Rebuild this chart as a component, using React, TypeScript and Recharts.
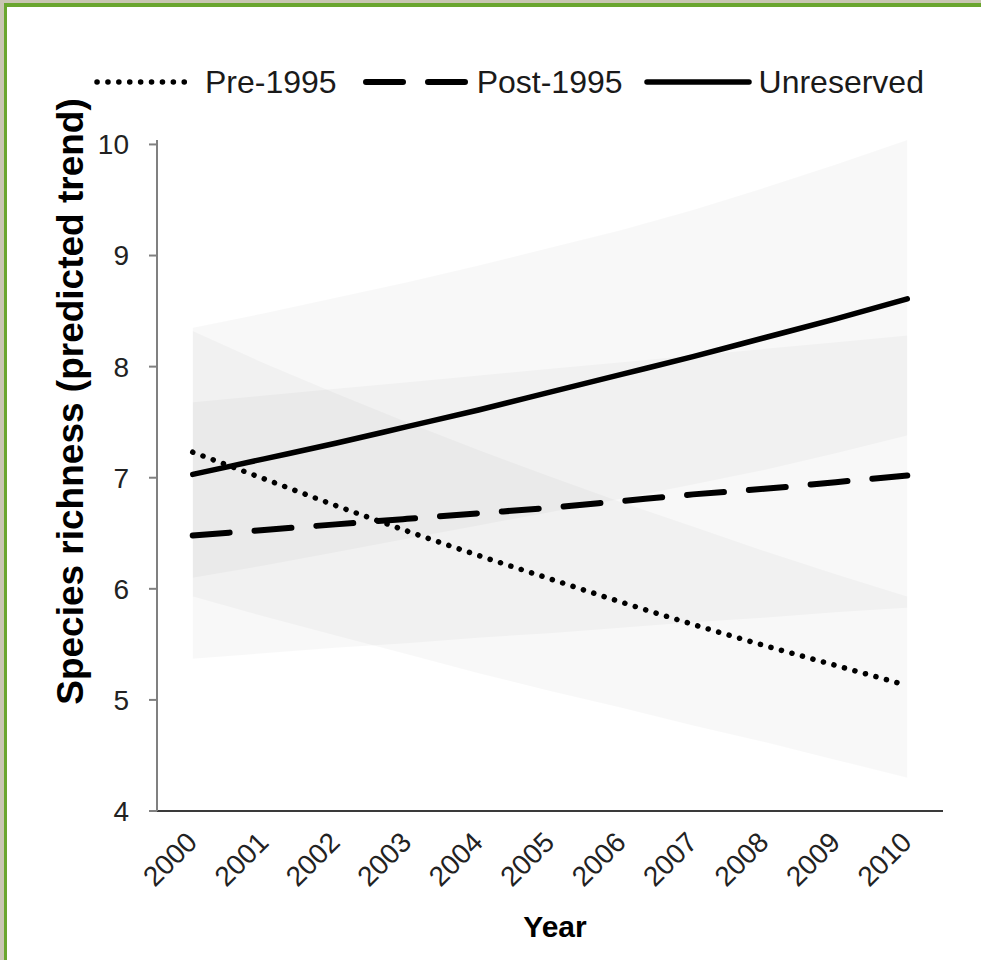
import React from "react";
import { ComposedChart, Line, Area, XAxis, YAxis, Legend, Label } from "recharts";

// ---- data ----
const years = [2000, 2001, 2002, 2003, 2004, 2005, 2006, 2007, 2008, 2009, 2010];
const yTicks = [4, 5, 6, 7, 8, 9, 10];
const seriesNames = ["Pre-1995", "Post-1995", "Unreserved"];

const preTrend = [7.23, 6.99, 6.75, 6.52, 6.3, 6.09, 5.88, 5.68, 5.49, 5.31, 5.13];
const postTrend = [6.48, 6.53, 6.58, 6.63, 6.68, 6.73, 6.79, 6.85, 6.9, 6.96, 7.02];
const unresTrend = [7.03, 7.17, 7.31, 7.46, 7.61, 7.77, 7.93, 8.09, 8.26, 8.43, 8.61];

const preUpper = [8.32, 8.03, 7.76, 7.5, 7.25, 7.01, 6.78, 6.56, 6.34, 6.13, 5.93];
const preLower = [5.93, 5.75, 5.58, 5.41, 5.24, 5.08, 4.93, 4.77, 4.62, 4.46, 4.3];
const postUpper = [7.68, 7.74, 7.8, 7.86, 7.92, 7.98, 8.04, 8.1, 8.16, 8.22, 8.28];
const postLower = [5.37, 5.42, 5.47, 5.51, 5.56, 5.6, 5.65, 5.7, 5.74, 5.79, 5.83];
const unresUpper = [8.35, 8.48, 8.62, 8.76, 8.91, 9.07, 9.23, 9.41, 9.61, 9.82, 10.04];
const unresLower = [6.1, 6.21, 6.33, 6.45, 6.57, 6.69, 6.81, 6.94, 7.07, 7.22, 7.38];

const data = years.map((year, i) => ({
  year,
  pre: preTrend[i],
  post: postTrend[i],
  unres: unresTrend[i],
  preBand: [preLower[i], preUpper[i]],
  postBand: [postLower[i], postUpper[i]],
  unresBand: [unresLower[i], unresUpper[i]],
}));

const boundaryTicks = [...years.map((y) => y - 0.5), years[years.length - 1] + 0.5];
const xDomain = [years[0] - 0.5, years[years.length - 1] + 0.5];

// ---- styles ----
const FONT = "'Liberation Sans', Arial, Helvetica, sans-serif";
const lineStyles: Record<string, { dash?: string; width: number }> = {
  "Pre-1995": { dash: "0.1 10.8", width: 5.5 },
  "Post-1995": { dash: "37 25", width: 6 },
  Unreserved: { width: 5.5 },
};
const legendLayout: Record<string, { sample: number; textGap: number; before: number }> = {
  "Pre-1995": { sample: 88, textGap: 17, before: 0 },
  "Post-1995": { sample: 100, textGap: 8, before: 26 },
  Unreserved: { sample: 102, textGap: 7, before: 21 },
};
const BAND_OPACITY = 0.026;

const XTick = (props: any) => {
  const { x, y, payload } = props;
  return (
    <g transform={`translate(${x + 6},${y + 30}) rotate(-45)`}>
      <text x={0} y={0} textAnchor="end" fontSize={28} fill="#222" fontFamily={FONT}>
        {payload.value}
      </text>
    </g>
  );
};

const LegendContent = (props: any) => {
  const items = seriesNames
    .map((n) => (props.payload || []).find((p: any) => p.value === n))
    .filter(Boolean);
  return (
    <div style={{ display: "flex", alignItems: "center", height: 40, fontFamily: FONT }}>
      {items.map((p: any) => {
        const st = lineStyles[p.value];
        const lay = legendLayout[p.value];
        const w = lay.sample;
        return (
          <div key={p.value} style={{ display: "flex", alignItems: "center", marginLeft: lay.before }}>
            <svg width={w + 6} height={20} style={{ display: "block" }}>
              <line
                x1={3}
                x2={w + 3}
                y1={10}
                y2={10}
                stroke="#000"
                strokeWidth={st.width}
                strokeDasharray={st.dash}
                strokeLinecap="round"
              />
            </svg>
            <span style={{ fontSize: 32, color: "#1a1a1a", marginLeft: lay.textGap, lineHeight: "40px", whiteSpace: "nowrap" }}>{p.value}</span>
          </div>
        );
      })}
    </div>
  );
};

const YTitle = (props: any) => {
  const vb = props.viewBox || { x: 97, y: 140, width: 60, height: 671 };
  const cx = vb.x - 27;
  const cy = vb.y + vb.height / 2 - 74;
  return (
    <text
      x={cx}
      y={cy}
      transform={`rotate(-90 ${cx} ${cy})`}
      textAnchor="middle"
      dominantBaseline="central"
      fontSize={37}
      fontWeight="bold"
      fill="#000"
      fontFamily={FONT}
    >
      Species richness (predicted trend)
    </text>
  );
};

const XTitle = (props: any) => {
  const vb = props.viewBox || { x: 157, y: 812, width: 786, height: 100 };
  const cx = vb.x + vb.width / 2 + 5;
  const cy = vb.y + 125;
  return (
    <text x={cx} y={cy} textAnchor="middle" fontSize={30} fontWeight="bold" fill="#000" fontFamily={FONT}>
      Year
    </text>
  );
};

export default function App() {
  return (
    <div style={{ position: "absolute", left: 0, top: 0, width: 981, height: 960, background: "#c9c6b2", fontFamily: FONT }}>
      <div style={{ position: "absolute", left: 4, top: 3, right: 0, bottom: 0, background: "#6aa62e" }} />
      <div style={{ position: "absolute", left: 7, top: 7, right: 0, bottom: 0, background: "#ffffff" }} />
      <div style={{ position: "absolute", left: 0, top: 0 }}>
        <ComposedChart width={981} height={960} data={data} margin={{ top: 100, right: 38, bottom: 48, left: 97 }}>
          <XAxis
            xAxisId="bounds"
            type="number"
            domain={xDomain}
            ticks={boundaryTicks}
            interval={0}
            tick={false}
            tickSize={9}
            height={1}
            stroke="#3a3a3a"
            strokeWidth={2}
            allowDataOverflow
          />
          <XAxis
            xAxisId="year"
            dataKey="year"
            type="number"
            domain={xDomain}
            ticks={years}
            interval={0}
            tick={<XTick />}
            tickLine={false}
            axisLine={false}
            tickSize={0}
            height={100}
            allowDataOverflow
          >
            <Label content={<XTitle />} />
          </XAxis>
          <YAxis
            domain={[4, 10]}
            ticks={yTicks}
            interval={0}
            width={60}
            tickSize={8}
            tickMargin={20}
            stroke="#808080"
            strokeWidth={2}
            tick={{ fontSize: 28, fill: "#222", fontFamily: FONT }}
          >
            <Label content={<YTitle />} />
          </YAxis>
          <Legend
            verticalAlign="top"
            content={<LegendContent />}
            wrapperStyle={{ top: 62, left: 94, width: 880, height: 40 }}
          />
          <Area xAxisId="year" dataKey="preBand" type="linear" stroke="none" fill="#000" fillOpacity={BAND_OPACITY} isAnimationActive={false} legendType="none" activeDot={false} />
          <Area xAxisId="year" dataKey="postBand" type="linear" stroke="none" fill="#000" fillOpacity={BAND_OPACITY} isAnimationActive={false} legendType="none" activeDot={false} />
          <Area xAxisId="year" dataKey="unresBand" type="linear" stroke="none" fill="#000" fillOpacity={BAND_OPACITY} isAnimationActive={false} legendType="none" activeDot={false} />
          <Line xAxisId="year" name="Pre-1995" dataKey="pre" type="monotone" stroke="#000" strokeWidth={5.5} strokeDasharray="0.1 10.8" strokeLinecap="round" dot={false} activeDot={false} isAnimationActive={false} />
          <Line xAxisId="year" name="Post-1995" dataKey="post" type="monotone" stroke="#000" strokeWidth={6} strokeDasharray="37 25" strokeLinecap="round" dot={false} activeDot={false} isAnimationActive={false} />
          <Line xAxisId="year" name="Unreserved" dataKey="unres" type="monotone" stroke="#000" strokeWidth={5.5} strokeLinecap="round" dot={false} activeDot={false} isAnimationActive={false} />
        </ComposedChart>
      </div>
    </div>
  );
}
